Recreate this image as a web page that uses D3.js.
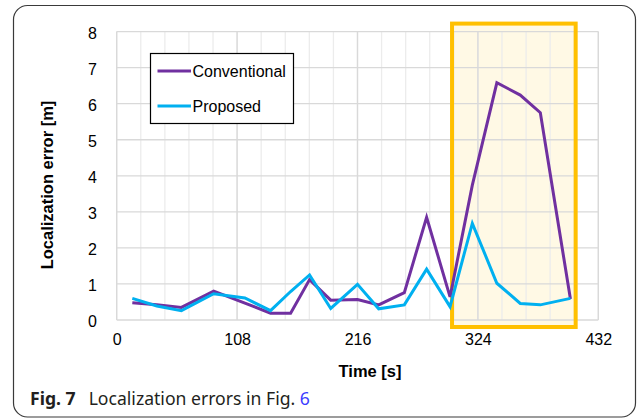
<!DOCTYPE html>
<html>
<head>
<meta charset="utf-8">
<script src="https://cdn.jsdelivr.net/npm/d3@7"></script>
<style>
  html, body { margin: 0; padding: 0; background: #fff; }
  svg { display: block; }
</style>
</head>
<body>
<svg id="chart" width="637" height="418"></svg>
<script>
// Sample times [s]
const times = [14, 36, 58, 87, 115, 138, 156, 173, 192, 216, 235, 258, 278, 299, 319, 341, 362, 380, 407];
// Localization error [m] per method
const conventional = [0.48, 0.42, 0.35, 0.80, 0.47, 0.19, 0.19, 1.12, 0.55, 0.57, 0.42, 0.76, 2.85, 0.64, 3.74, 6.58, 6.24, 5.75, 0.58];
const proposed     = [0.60, 0.39, 0.26, 0.73, 0.61, 0.26, 0.79, 1.25, 0.32, 0.99, 0.31, 0.42, 1.41, 0.37, 2.68, 1.02, 0.46, 0.42, 0.60];
const seriesNames = ["Conventional", "Proposed"];
const xTicks = [0, 108, 216, 324, 432];
const yTicks = [0, 1, 2, 3, 4, 5, 6, 7, 8];
// Highlighted time window [s]
const highlightRange = [300.8, 411.7];

const colors = ["#7030A0", "#00B0F0"];
const svg = d3.select("#chart");

// Rounded figure frame
svg.append("rect")
  .attr("x", 13.5).attr("y", 5.5)
  .attr("width", 622).attr("height", 411.5)
  .attr("rx", 14).attr("ry", 14)
  .attr("fill", "none").attr("stroke", "#3a3a3a").attr("stroke-width", 1.2);

const x = d3.scaleLinear().domain([0, 432]).range([116.7, 598.3]);
const y = d3.scaleLinear().domain([0, 8]).range([320, 31.6]);

const g = svg.append("g");

// Highlight fill
const hx0 = x(highlightRange[0]), hx1 = x(highlightRange[1]);
g.append("rect")
  .attr("x", hx0).attr("y", y(8) - 8)
  .attr("width", hx1 - hx0).attr("height", y(0) - y(8) + 15)
  .attr("fill", "#FFC000").attr("fill-opacity", 0.1);

// Minor vertical gridlines
const minor = d3.range(0, 432.01, 21.6);
g.selectAll("line.vmin").data(minor).enter().append("line")
  .attr("x1", d => x(d)).attr("x2", d => x(d))
  .attr("y1", y(0)).attr("y2", y(8))
  .attr("stroke", "#ececec").attr("stroke-width", 1.3);

// Major vertical gridlines
g.selectAll("line.vmaj").data(xTicks).enter().append("line")
  .attr("x1", d => x(d)).attr("x2", d => x(d))
  .attr("y1", y(0)).attr("y2", y(8))
  .attr("stroke", "#d9d9d9").attr("stroke-width", 1.3);

// Horizontal gridlines
g.selectAll("line.h").data(yTicks).enter().append("line")
  .attr("x1", x(0)).attr("x2", x(432))
  .attr("y1", d => y(d)).attr("y2", d => y(d))
  .attr("stroke", "#d9d9d9").attr("stroke-width", 1.3);

// Highlight border
g.append("rect")
  .attr("x", hx0).attr("y", y(8) - 8)
  .attr("width", hx1 - hx0).attr("height", y(0) - y(8) + 15)
  .attr("fill", "none").attr("stroke", "#FFC000").attr("stroke-width", 4);

// Axis tick labels
const axisFont = "'Liberation Sans', Arial, sans-serif";
const xAxis = d3.axisBottom(x).tickValues(xTicks).tickSize(0).tickPadding(0);
const xa = svg.append("g").attr("transform", `translate(0,${y(0)})`).call(xAxis);
xa.select(".domain").remove();
xa.selectAll("text").attr("dy", null).attr("y", 25)
  .attr("font-family", axisFont).attr("font-size", 16).attr("fill", "#000");

const yAxis = d3.axisLeft(y).tickValues(yTicks).tickSize(0).tickPadding(0);
const ya = svg.append("g").attr("transform", `translate(97,1)`).call(yAxis);
ya.select(".domain").remove();
ya.selectAll("text").attr("dy", "0.35em").attr("x", 0)
  .attr("font-family", axisFont).attr("font-size", 16).attr("fill", "#000");

// Series lines
const seriesData = [conventional, proposed];
const line = d3.line().x(d => x(d[0])).y(d => y(d[1]));
seriesData.forEach((vals, i) => {
  svg.append("path")
    .datum(times.map((t, k) => [t, vals[k]]))
    .attr("d", line)
    .attr("fill", "none")
    .attr("stroke", colors[i])
    .attr("stroke-width", 3)
    .attr("stroke-linejoin", "miter");
});

// Legend
const lg = svg.append("g");
lg.append("rect").attr("x", 150.5).attr("y", 53.5).attr("width", 143).attr("height", 70)
  .attr("fill", "#fff").attr("stroke", "#000").attr("stroke-width", 1.2);
seriesNames.forEach((name, i) => {
  const ly = 71 + i * 35;
  lg.append("line").attr("x1", 157.5).attr("x2", 191).attr("y1", ly).attr("y2", ly)
    .attr("stroke", colors[i]).attr("stroke-width", 3);
  lg.append("text").attr("x", 192.5).attr("y", ly).attr("dy", "0.35em")
    .attr("font-family", axisFont).attr("font-size", 16).attr("fill", "#000")
    .text(name);
});

// Axis titles
svg.append("text")
  .attr("x", 370).attr("y", 376.5)
  .attr("text-anchor", "middle")
  .attr("font-family", axisFont).attr("font-weight", "bold").attr("font-size", 16.5)
  .text("Time [s]");

svg.append("text")
  .attr("transform", "translate(52.5,185) rotate(-90)")
  .attr("text-anchor", "middle")
  .attr("font-family", axisFont).attr("font-weight", "bold").attr("font-size", 16.5)
  .text("Localization error [m]");

// Caption
const cap = svg.append("text")
  .attr("x", 30).attr("y", 404.5)
  .attr("font-family", "'Noto Sans', 'Open Sans', sans-serif").attr("font-size", 17.6).attr("fill", "#231f20");
cap.append("tspan").attr("font-weight", "bold").text("Fig. 7");
cap.append("tspan").attr("dx", 13).text("Localization errors in Fig. ");
cap.append("tspan").attr("fill", "#3b3bff").text("6");
</script>
</body>
</html>
